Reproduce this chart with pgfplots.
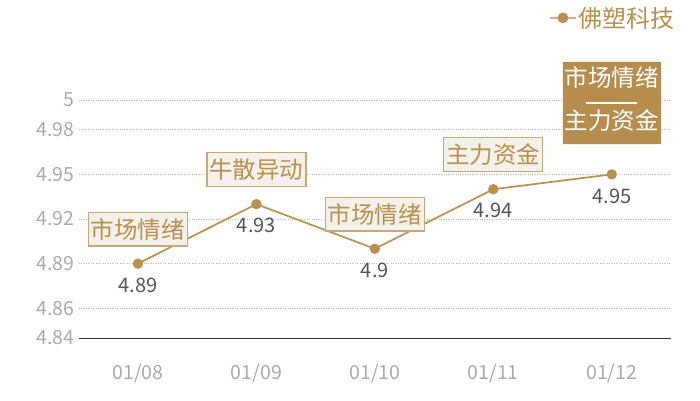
\documentclass[border=0pt]{standalone}
\usepackage{pgfplots}
\pgfplotsset{compat=1.18}
\usepackage{fontspec}
\setmainfont{Noto Sans CJK SC}
\definecolor{tan}{HTML}{B8904F}
\definecolor{tanlight}{HTML}{D2B48A}
\definecolor{boxfill}{HTML}{F4F0EA}
\definecolor{boxedge}{HTML}{C9A878}
\definecolor{darkbox}{HTML}{B68D4E}
\definecolor{ticklab}{HTML}{AAAAAA}
\definecolor{vallab}{HTML}{555555}
\begin{document}
\begin{tikzpicture}
\useasboundingbox (0,0) rectangle (700pt,400pt);
\begin{axis}[
  at={(78.7pt,62pt)}, anchor=south west,
  scale only axis, width=592.3pt, height=238pt,
  xmin=-0.5, xmax=4.5, ymin=4.84, ymax=5,
  clip=false,
  /pgf/number format/assume math mode=true,
  xtick={0,1,2,3,4},
  xticklabels={01/08,01/09,01/10,01/11,01/12},
  ytick={4.84,4.86,4.89,4.92,4.95,4.98,5},
  yticklabels={4.84,4.86,4.89,4.92,4.95,4.98,5},
  axis x line*=bottom, axis y line*=left,
  y axis line style={draw=none},
  x axis line style={draw=black!80, line width=0.9pt},
  major tick length=0pt,
  ymajorgrids, grid style={dotted, draw=black!28, line width=0.7pt},
  xticklabel style={font=\fontsize{19.5}{19.5}\selectfont, text=ticklab, yshift=-22pt},
  yticklabel style={font=\fontsize{19.5}{19.5}\selectfont, text=ticklab, xshift=-1pt},
  legend style={at={(1.01,1.345)}, anchor=east, draw=none, fill=none,
    font=\fontsize{24}{24}\selectfont, text=tan, inner sep=0pt},
  legend image code/.code={
    \draw[draw=tanlight, line width=1.6pt] (0pt,0pt) -- (26pt,0pt);
    \fill[tan] (13pt,0pt) circle (4.5pt);
  },
]
\addplot[tan, line width=1.7pt, mark=*, mark size=4.3pt, mark options={fill=tan, draw=none},
  nodes near coords,
  every node near coord/.append style={anchor=north, yshift=-10pt, text=vallab, font=\fontsize{20}{20}\selectfont}]
  coordinates {(0,4.89) (1,4.93) (2,4.90) (3,4.94) (4,4.95)};
\addlegendentry{佛塑科技}
\addplot[draw=none, mark=none, forget plot,
  point meta=explicit symbolic, nodes near coords,
  every node near coord/.append style={anchor=south, yshift=17pt, fill=boxfill, draw=boxedge,
    line width=1.3pt, text=tan, inner xsep=2.5pt, inner ysep=6pt, font=\fontsize{23.5}{23.5}\selectfont}]
  coordinates {(0,4.89) [市场情绪] (1,4.93) [牛散异动] (2,4.90) [市场情绪] (3,4.94) [主力资金]};
\addplot[draw=none, mark=none, forget plot,
  nodes near coords={\begin{tabular}{@{}c@{}}市场情绪\\[-3pt]\textcolor{white}{\rule[7pt]{51pt}{1.5pt}}\\[-9pt]主力资金\end{tabular}},
  every node near coord/.append style={anchor=south, yshift=30pt, fill=darkbox, draw=boxfill,
    line width=0.6pt, text=white, inner xsep=2.5pt, inner ysep=6pt, font=\fontsize{23.5}{27}\selectfont}]
  coordinates {(4,4.95)};
\end{axis}
\end{tikzpicture}
\end{document}
